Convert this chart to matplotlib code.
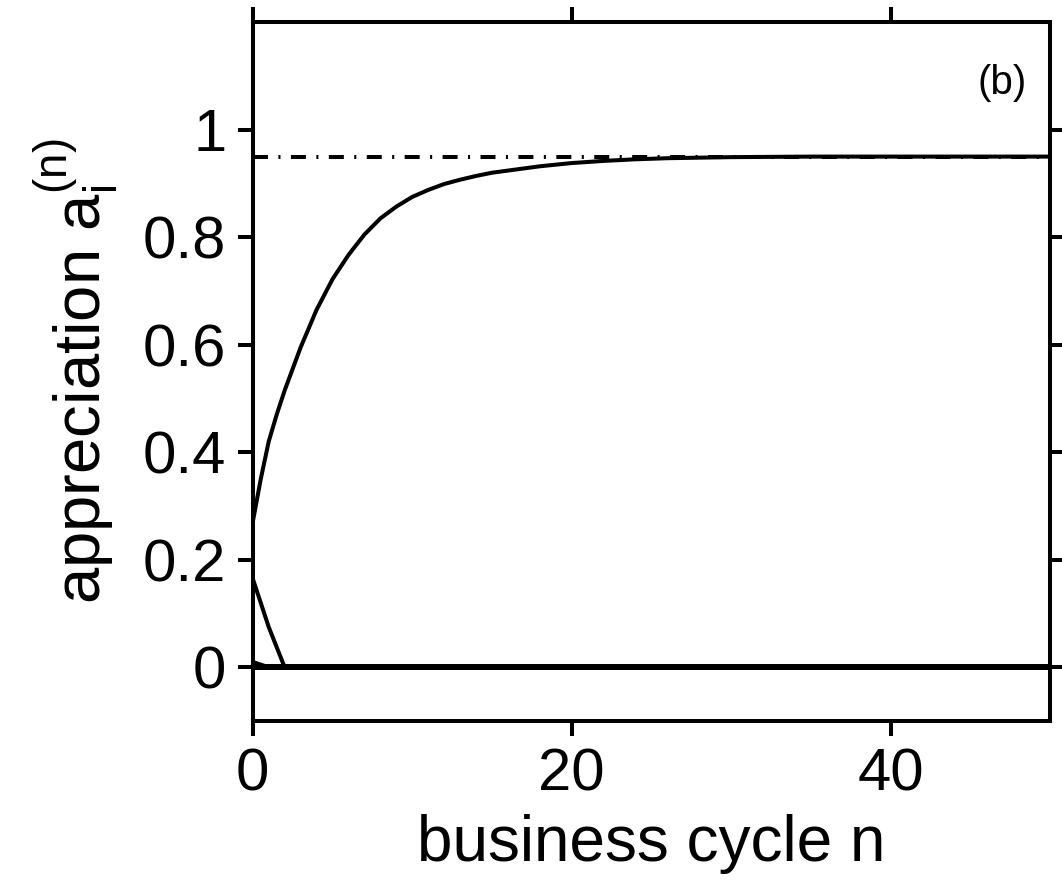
import numpy as np
import matplotlib
matplotlib.use("Agg")
import matplotlib.pyplot as plt
from matplotlib.ticker import FuncFormatter

plt.rcParams["font.family"] = ["Liberation Sans", "DejaVu Sans"]
plt.rcParams["mathtext.fontset"] = "custom"
plt.rcParams["mathtext.rm"] = "Liberation Sans"
plt.rcParams["mathtext.it"] = "Liberation Sans"
plt.rcParams["lines.scale_dashes"] = False

# ---------------------------------------------------------------------------
# Data
# ---------------------------------------------------------------------------
n_rise = [0, 0.5, 1, 1.5, 2, 3, 4, 5, 6, 7, 8, 9, 10, 11, 12, 13, 14, 15,
          16, 17, 18, 20, 22, 24, 26, 30, 35, 50]
a_rise = [0.27, 0.35, 0.42, 0.47, 0.515, 0.595, 0.665, 0.722, 0.767, 0.805,
          0.835, 0.857, 0.875, 0.888, 0.899, 0.907, 0.914, 0.92, 0.924,
          0.928, 0.932, 0.938, 0.942, 0.945, 0.947, 0.949, 0.95, 0.95]

n_fall = [0, 1, 2, 50]
a_fall = [0.165, 0.075, 0.0, 0.0]

n_small = [0, 1, 50]
a_small = [0.01, 0.0, 0.0]

n_zero = [0, 50]
a_zero = [0.0, 0.0]

a_limit = 0.95

# ---------------------------------------------------------------------------
# Figure
# ---------------------------------------------------------------------------
fig = plt.figure(figsize=(10.62, 8.88), dpi=100)
ax = fig.add_axes([0.238, 0.188, 0.751, 0.787])

ax.plot(n_zero, a_zero, color="black", lw=4.3, solid_capstyle="butt")
ax.plot(n_small, a_small, color="black", lw=2.9)
ax.plot(n_fall, a_fall, color="black", lw=2.9)
ax.plot(n_rise, a_rise, color="black", lw=2.9)
ax.plot([0, 50], [a_limit, a_limit], color="black", lw=2.9,
        dashes=(10.8, 7.5, 1.5, 7.5))

ax.set_xlim(0, 50)
ax.set_ylim(-0.1, 1.2)
ax.set_xticks([0, 20, 40])
ax.set_yticks([0, 0.2, 0.4, 0.6, 0.8, 1.0])
ax.yaxis.set_major_formatter(FuncFormatter(lambda v, p: "%g" % round(v, 2)))

for s in ax.spines.values():
    s.set_linewidth(2.9)

ax.tick_params(direction="out", length=11, width=2.9, labelsize=43,
               top=True, right=True, pad=8)

ax.set_xlabel("business cycle n", fontsize=46, labelpad=8)
ax.set_ylabel(r"appreciation a$\mathregular{_i^{(n)}}$", fontsize=47,
              labelpad=16)

ax.text(0.97, 0.913, "(b)", transform=ax.transAxes, fontsize=29,
        ha="right", va="center")

fig.savefig("out.png", dpi=100)
